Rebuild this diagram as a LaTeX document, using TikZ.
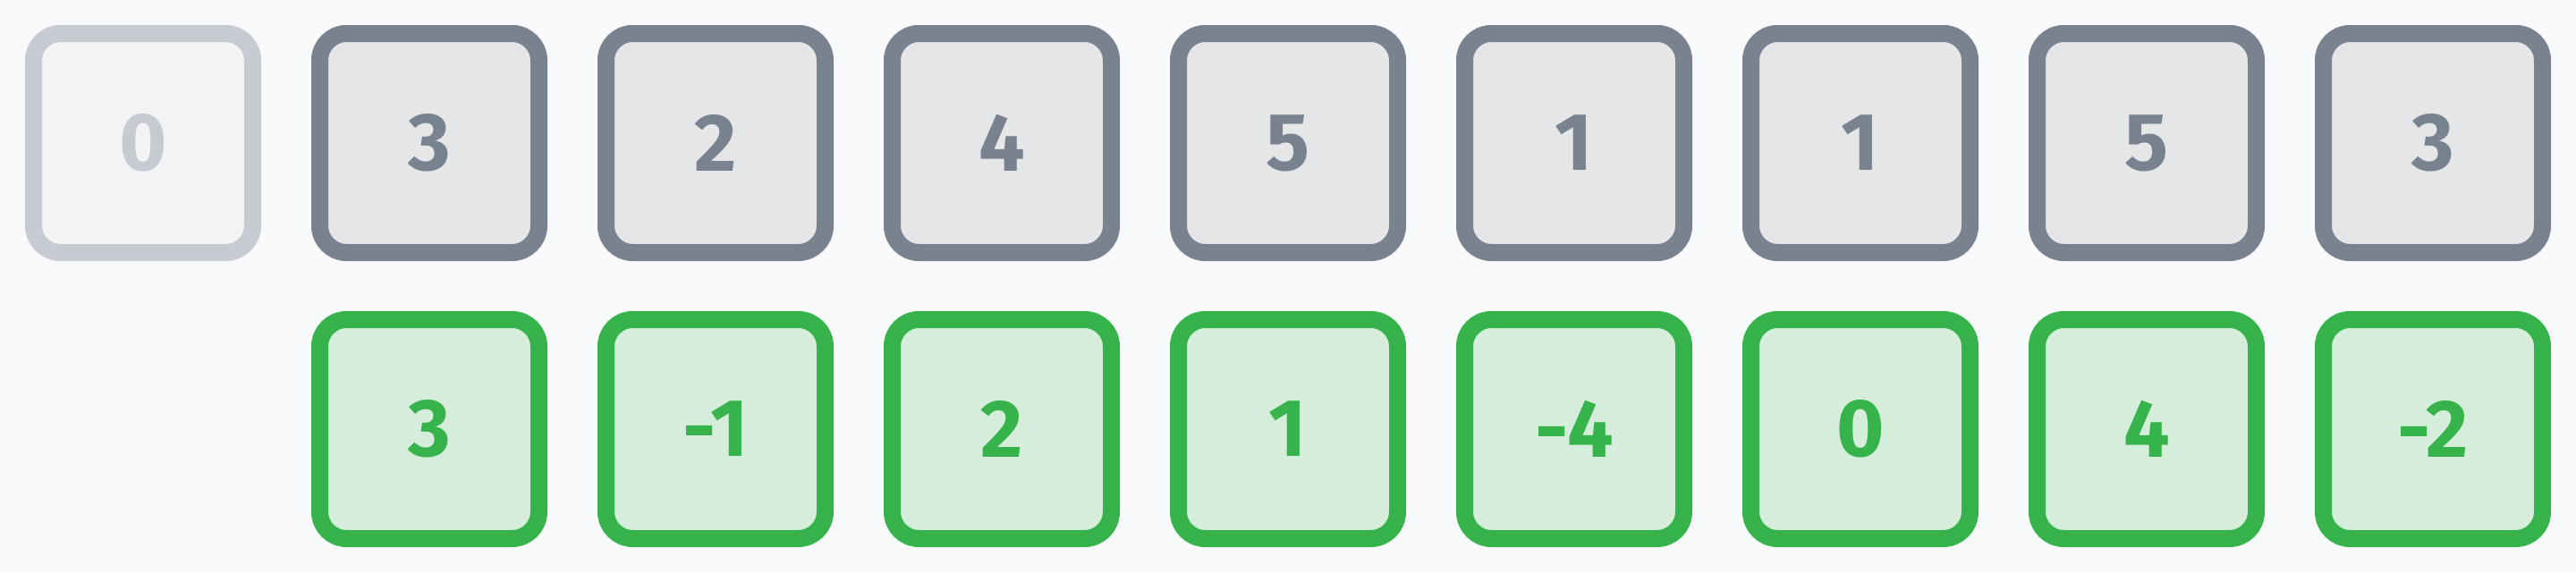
\documentclass[tikz,border=0pt]{standalone}
\usepackage{fontspec}
\setmainfont{Fira Sans}
\usepackage{tikz}
\usetikzlibrary{positioning}

\definecolor{bgpaper}{HTML}{F8F9FB}
\definecolor{slate}{HTML}{78838F}
\definecolor{slatefill}{HTML}{E4E6E8}
\definecolor{faded}{HTML}{C6CBD1}
\definecolor{fadedfill}{HTML}{F2F3F5}
\definecolor{leaf}{HTML}{37B34B}
\definecolor{leaffill}{HTML}{D5EEDC}

\begin{document}
\begin{tikzpicture}
	[   cell/.style={draw=#1,text=#1,line width=1.9mm,rounded corners=3mm,minimum width=24.5mm,minimum height=24.5mm,inner sep=0pt,font=\fontsize{26}{30}\selectfont\bfseries},
	]
	\tikzset{gray cell/.style={cell=slate,fill=slatefill}}
	\tikzset{faded cell/.style={cell=faded,fill=fadedfill}}
	\tikzset{green cell/.style={cell=leaf,fill=leaffill}}
	\fill[bgpaper] (0,0) rectangle (28.8,6.4);
	\useasboundingbox (0,0) rectangle (28.8,6.4);
	
	% input row
	\node[faded cell] (t-0) at (1.6,4.8) {0};
	\node[gray cell] (t-1) at (4.8,4.8) {3};
	\node[gray cell] (t-2) at (8.0,4.8) {2};
	\node[gray cell] (t-3) at (11.2,4.8) {4};
	\node[gray cell] (t-4) at (14.4,4.8) {5};
	\node[gray cell] (t-5) at (17.6,4.8) {1};
	\node[gray cell] (t-6) at (20.8,4.8) {1};
	\node[gray cell] (t-7) at (24.0,4.8) {5};
	\node[gray cell] (t-8) at (27.2,4.8) {3};
	
	% differences
	\node[green cell] (d-1) at (4.8,1.6) {3};
	\node[green cell] (d-2) at (8.0,1.6) {-1};
	\node[green cell] (d-3) at (11.2,1.6) {2};
	\node[green cell] (d-4) at (14.4,1.6) {1};
	\node[green cell] (d-5) at (17.6,1.6) {-4};
	\node[green cell] (d-6) at (20.8,1.6) {0};
	\node[green cell] (d-7) at (24.0,1.6) {4};
	\node[green cell] (d-8) at (27.2,1.6) {-2};
\end{tikzpicture}
\end{document}
